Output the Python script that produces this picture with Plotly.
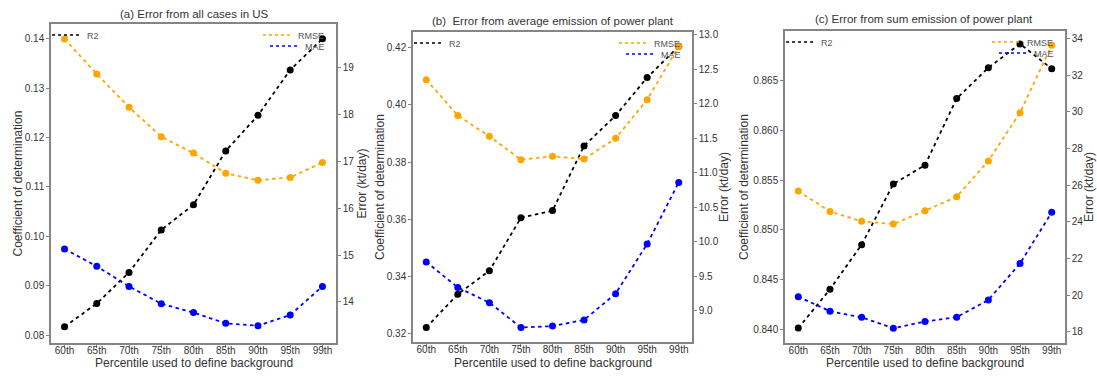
import plotly.graph_objects as go

W, H = 1097, 376

categories = ["60th", "65th", "70th", "75th", "80th", "85th", "90th", "95th", "99th"]

# (a) Error from all cases in US
r2_a = [0.0817, 0.0864, 0.0927, 0.1013, 0.1064, 0.1173, 0.1245, 0.1337, 0.1400]
rmse_a = [19.62, 18.87, 18.16, 17.53, 17.18, 16.75, 16.60, 16.66, 16.98]
mae_a = [15.13, 14.76, 14.33, 13.96, 13.77, 13.54, 13.49, 13.72, 14.33]

# (b) Error from average emission of power plant
r2_b = [0.3223, 0.3339, 0.3421, 0.3606, 0.3631, 0.3857, 0.3963, 0.4096, 0.4205]
rmse_b = [12.35, 11.83, 11.53, 11.19, 11.24, 11.20, 11.50, 12.06, 12.83]
mae_b = [9.71, 9.34, 9.12, 8.76, 8.78, 8.87, 9.25, 9.97, 10.86]

# (c) Error from sum emission of power plant
r2_c = [0.8401, 0.8440, 0.8485, 0.8546, 0.8565, 0.8632, 0.8663, 0.8687, 0.8662]
rmse_c = [25.67, 24.56, 24.02, 23.87, 24.60, 25.36, 27.32, 29.95, 33.63]
mae_c = [19.91, 19.11, 18.78, 18.19, 18.55, 18.79, 19.73, 21.72, 24.51]

titles = ["(a) Error from all cases in US",
          "(b)  Error from average emission of power plant",
          "(c) Error from sum emission of power plant"]
x_title = "Percentile used to define background"
y_left_title = "Coefficient of determination"
y_right_title = "Error (kt/day)"

panels = [
    dict(r2=r2_a, rmse=rmse_a, mae=mae_a, box=(51, 336, 24, 343),
         lr=[0.0784, 0.143], rr=[13.12, 19.94],
         lt=[0.08, 0.09, 0.10, 0.11, 0.12, 0.13, 0.14], lfmt=".2f",
         rt=[14, 15, 16, 17, 18, 19], rfmt="d", title_xy=(194, 14),
         ytx=(18, 362)),
    dict(r2=r2_b, rmse=rmse_b, mae=mae_b, box=(413, 692, 32, 342),
         lr=[0.3172, 0.4255], rr=[8.55, 13.04],
         lt=[0.32, 0.34, 0.36, 0.38, 0.40, 0.42], lfmt=".2f",
         rt=[9.0, 9.5, 10.0, 10.5, 11.0, 11.5, 12.0, 12.5, 13.0], rfmt=".1f",
         title_xy=(553, 21), ytx=(380, 724)),
    dict(r2=r2_c, rmse=rmse_c, mae=mae_c, box=(785, 1065, 31, 343),
         lr=[0.8386, 0.8700], rr=[17.38, 34.41],
         lt=[0.840, 0.845, 0.850, 0.855, 0.860, 0.865], lfmt=".3f",
         rt=[18, 20, 22, 24, 26, 28, 30, 32, 34], rfmt="d", title_xy=(924, 19),
         ytx=(744, 1089)),
]

FONT = "Liberation Sans, Arial, sans-serif"
TXT = "#333333"
SPINE = "#858585"
DASH = "3.5px,3.5px"

fig = go.Figure()
layout = dict(
    width=W, height=H, margin=dict(l=0, r=0, t=0, b=0, autoexpand=False),
    paper_bgcolor="white", plot_bgcolor="white",
    font=dict(family=FONT, color=TXT, size=10),
    annotations=[],
)

legend_count = 0


def new_legend():
    global legend_count
    legend_count += 1
    return "legend" if legend_count == 1 else f"legend{legend_count}"


for i, p in enumerate(panels):
    n = i + 1
    x0, x1, y0, y1 = p["box"]
    xa = "x" if n == 1 else f"x{n}"
    yl = 2 * n - 1
    yr = 2 * n
    yla = "y" if yl == 1 else f"y{yl}"
    yra = f"y{yr}"

    series = [
        ("R2", p["r2"], "black", yla, "left", 0),
        ("RMSE", p["rmse"], "orange", yra, "right", 0),
        ("MAE", p["mae"], "blue", yra, "right", 1),
    ]
    legfont = dict(size=9, color="#555555", family=FONT)
    for name, vals, col, ya, side, row in series:
        fig.add_trace(go.Scatter(
            x=categories, y=vals, mode="lines+markers", name=name,
            line=dict(color=col, width=1.8, dash=DASH),
            marker=dict(color=col, size=7),
            xaxis=xa, yaxis=ya, showlegend=False))
        lg = new_legend()
        fig.add_trace(go.Scatter(
            x=[None], y=[None], mode="lines", name=name,
            line=dict(color=col, width=1.6, dash="3px,3px"),
            xaxis=xa, yaxis=ya, showlegend=True, legend=lg))
        ly = y0 + 11 + 11 * row
        if side == "left":
            layout[lg] = dict(x=(x0 - 4) / W, y=1 - ly / H, xanchor="left",
                              yanchor="middle", bgcolor="rgba(0,0,0,0)",
                              font=legfont, itemwidth=30)
        else:
            layout[lg] = dict(x=(x1 - 6) / W, y=1 - ly / H, xanchor="right",
                              yanchor="middle", bgcolor="rgba(0,0,0,0)",
                              font=legfont, itemwidth=30)

    xd = [x0 / W, x1 / W]
    yd = [1 - y1 / H, 1 - y0 / H]
    xkey = "xaxis" if n == 1 else f"xaxis{n}"
    ylkey = "yaxis" if yl == 1 else f"yaxis{yl}"
    yrkey = f"yaxis{yr}"

    common = dict(showline=True, linecolor=SPINE, linewidth=1.5,
                  ticks="outside", ticklen=3, tickcolor=SPINE, showgrid=False,
                  zeroline=False, tickfont=dict(size=10, color=TXT), automargin=False)
    layout[xkey] = dict(domain=xd, anchor=yla, type="category", range=[-0.42, 8.42],
                        mirror=True, ticklabelstandoff=-6, **common)
    layout[ylkey] = dict(domain=yd, anchor=xa, range=p["lr"], tickvals=p["lt"],
                         ticktext=[format(v, p["lfmt"]) for v in p["lt"]], **common)
    layout[yrkey] = dict(domain=yd, anchor=xa, overlaying=yla, side="right",
                         range=p["rr"], tickvals=p["rt"],
                         ticktext=[str(int(v)) if p["rfmt"] == "d" else format(v, p["rfmt"])
                                   for v in p["rt"]], **common)

    cy = 1 - (y0 + y1) / 2 / H
    layout["annotations"] += [
        dict(text=titles[i], x=p["title_xy"][0] / W, y=1 - p["title_xy"][1] / H,
             xref="paper", yref="paper", xanchor="center", yanchor="middle",
             showarrow=False, font=dict(size=11.5, color=TXT, family=FONT)),
        dict(text=x_title, x=(x0 + x1) / 2 / W, y=1 - 363 / H,
             xref="paper", yref="paper", xanchor="center", yanchor="middle",
             showarrow=False, font=dict(size=12, color=TXT, family=FONT)),
        dict(text=y_left_title, x=p["ytx"][0] / W, y=cy, textangle=-90,
             xref="paper", yref="paper", xanchor="center", yanchor="middle",
             showarrow=False, font=dict(size=12, color=TXT, family=FONT)),
        dict(text=y_right_title, x=p["ytx"][1] / W, y=cy, textangle=-90,
             xref="paper", yref="paper", xanchor="center", yanchor="middle",
             showarrow=False, font=dict(size=12, color=TXT, family=FONT)),
    ]

fig.update_layout(**layout)
fig.write_html("out.html", config={"displayModeBar": False},
               post_script="document.body.style.margin='0';document.body.style.overflow='hidden';")
